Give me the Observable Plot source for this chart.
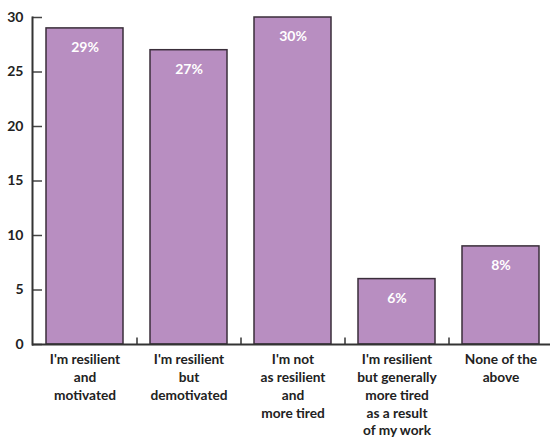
<!DOCTYPE html>
<html>
<head>
<meta charset="utf-8">
<script src="https://cdn.jsdelivr.net/npm/d3@7"></script>
<script src="https://cdn.jsdelivr.net/npm/@observablehq/plot@0.6"></script>
<style>
  html, body { margin: 0; padding: 0; background: #fff; }
  #chart svg { display: block; }
</style>
</head>
<body>
<div id="chart"></div>
<script>
const categories = [
  "I'm resilient\nand\nmotivated",
  "I'm resilient\nbut\ndemotivated",
  "I'm not\nas resilient\nand\nmore tired",
  "I'm resilient\nbut generally\nmore tired\nas a result\nof my work",
  "None of the\nabove"
];
const values = [29, 27, 30, 6, 9];
const valueLabels = ["29%", "27%", "30%", "6%", "8%"];
const yTicks = [0, 5, 10, 15, 20, 25, 30];

const data = categories.map((c, i) => ({cat: c, value: values[i], label: valueLabels[i]}));
const font = "Lato, 'Open Sans', sans-serif";

const chart = Plot.plot({
  width: 550,
  height: 437,
  marginLeft: 32,
  marginRight: -2,
  marginTop: 17,
  marginBottom: 93,
  style: {fontFamily: font, fontWeight: "bold", fontSize: "13px", color: "#222", background: "#fff"},
  x: {domain: categories, paddingInner: 0.26, paddingOuter: 0.13},
  y: {domain: [0, 30]},
  marks: [
    Plot.barY(data, {x: "cat", y: "value", fill: "#b88ec1", stroke: "#3a2e3a", strokeWidth: 1.5}),
    Plot.text(data, {x: "cat", y: "value", text: "label", dy: 19, fill: "white", fontSize: 14, fontWeight: "bold"}),
    Plot.axisY(yTicks, {tickSize: 10, dx: 10, tickFormat: () => "", stroke: "#444", strokeWidth: 1.5, label: null}),
    Plot.axisY(yTicks, {tickSize: 0, tickPadding: 9, fontSize: 14, fontWeight: "bold", fill: "#222", label: null}),
    Plot.axisX({tickSize: 0, tickPadding: 7, lineHeight: 1.3, fontSize: 13.7, fontWeight: "bold", fill: "#222", label: null}),
    Plot.ruleX(categories.slice(1), {x: d => d, dx: -52, y1: 0, y2: 0.6, stroke: "#333", strokeWidth: 1.5}),
    Plot.frame({anchor: "left", stroke: "#333", strokeWidth: 2}),
    Plot.ruleY([0], {stroke: "#333", strokeWidth: 2})
  ]
});
document.getElementById("chart").appendChild(chart);
</script>
</body>
</html>
